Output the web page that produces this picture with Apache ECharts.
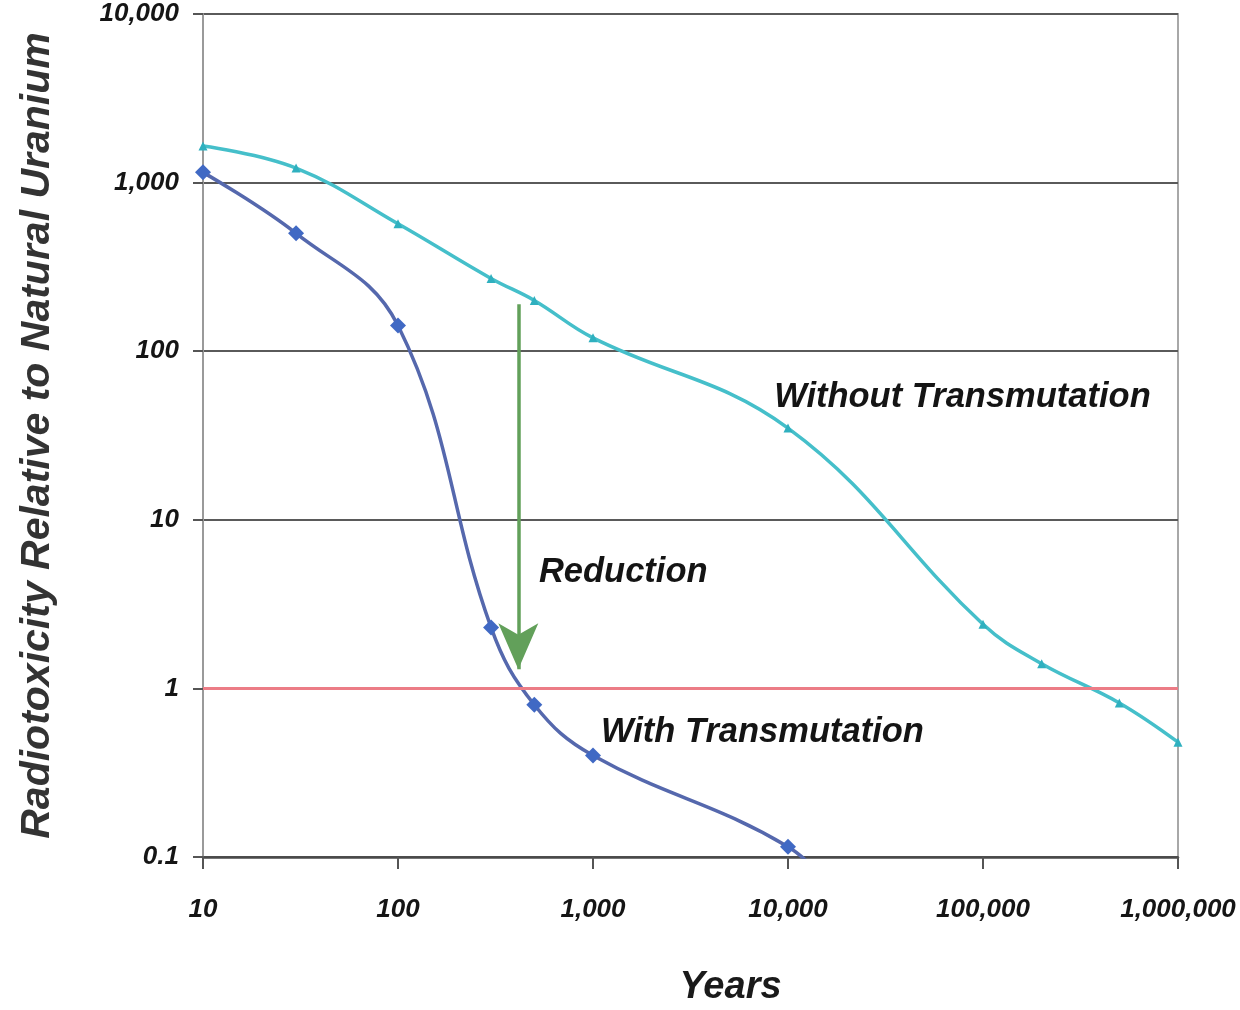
<!DOCTYPE html>
<html>
<head>
<meta charset="utf-8">
<title>Radiotoxicity vs Years</title>
<script src="https://cdn.jsdelivr.net/npm/echarts@6/dist/echarts.min.js"></script>
<style>
  html, body { margin: 0; padding: 0; background: #ffffff; }
  #chart { width: 1240px; height: 1010px; }
</style>
</head>
<body>
<div id="chart"></div>
<script>
// Years after discharge (log scale) and radiotoxicity relative to natural uranium
const withoutYears  = [10, 30, 100, 300, 500, 1000, 10000, 100000, 200000, 500000, 1000000];
const withoutValues = [1650, 1220, 570, 270, 200, 120, 35, 2.4, 1.4, 0.82, 0.48];

const withYears  = [10, 30, 100, 300, 500, 1000, 10000, 20000];
const withValues = [1150, 500, 142, 2.3, 0.8, 0.4, 0.115, 0.05];

// Axis ticks and their labels
const xTicks      = [10, 100, 1000, 10000, 100000, 1000000];
const xTickLabels = ['10', '100', '1,000', '10,000', '100,000', '1,000,000'];
const yTicks      = [0.1, 1, 10, 100, 1000, 10000];
const yTickLabels = ['0.1', '1', '10', '100', '1,000', '10,000'];

// Natural uranium level and the reduction arrow (years, level)
const uraniumLevel   = 1;
const reductionStart = [414, 190];
const reductionEnd   = [414, 1.3];

// Annotation anchors (years, level) with their texts
const notes = [
  { text: 'Without Transmutation', at: [8440, 53] },
  { text: 'Reduction',             at: [525, 4.9] },
  { text: 'With Transmutation',    at: [1092, 0.55] }
];

const FONT = '"Liberation Sans", Arial, sans-serif';

function pairs(xs, ys) { return xs.map((x, i) => [x, ys[i]]); }
function tickLabel(ticks, labels) {
  return v => {
    const i = ticks.findIndex(t => Math.abs(Math.log10(t) - Math.log10(v)) < 1e-6);
    return i >= 0 ? labels[i] : '';
  };
}

const chart = echarts.init(document.getElementById('chart'));

chart.setOption({
  animation: false,
  backgroundColor: '#ffffff',
  grid: {
    left: 203, right: 62, top: 14, bottom: 153,
    outerBoundsMode: 'none', containLabel: false,
    show: true, borderColor: '#a8a8a8', borderWidth: 2, backgroundColor: 'transparent'
  },
  xAxis: {
    type: 'log', logBase: 10, min: 10, max: 1000000,
    name: 'Years', nameLocation: 'middle', nameGap: 112,
    nameTextStyle: { fontFamily: FONT, fontSize: 38, fontWeight: 'bold', fontStyle: 'italic',
                     color: '#1a1a1a', padding: [0, 0, 0, 80] },
    axisLine: { show: true, lineStyle: { color: '#4a4a4a', width: 2.5 } },
    axisTick: { show: true, length: 12, lineStyle: { color: '#555', width: 2 } },
    minorTick: { show: false },
    splitLine: { show: false },
    axisLabel: {
      margin: 40, formatter: tickLabel(xTicks, xTickLabels),
      fontFamily: FONT, fontSize: 26, fontWeight: 'bold', fontStyle: 'italic', color: '#151515'
    }
  },
  yAxis: {
    type: 'log', logBase: 10, min: 0.1, max: 10000,
    name: 'Radiotoxicity Relative to Natural Uranium', nameLocation: 'middle', nameGap: 145,
    nameTextStyle: { fontFamily: FONT, fontSize: 41, fontWeight: 'bold', fontStyle: 'italic',
                     color: '#333333' },
    axisLine: { show: true, lineStyle: { color: '#9a9a9a', width: 2 } },
    axisTick: { show: true, length: 10, lineStyle: { color: '#555', width: 2 } },
    splitLine: { show: true, lineStyle: { color: '#5a5a5a', width: 2 } },
    axisLabel: {
      margin: 24, formatter: tickLabel(yTicks, yTickLabels),
      fontFamily: FONT, fontSize: 26, fontWeight: 'bold', fontStyle: 'italic', color: '#151515'
    }
  },
  series: [
    {
      name: 'Without Transmutation',
      type: 'line',
      data: pairs(withoutYears, withoutValues),
      smooth: 0.4,
      clip: true,
      lineStyle: { color: '#45bfca', width: 3.5 },
      symbol: 'triangle', symbolSize: 9,
      itemStyle: { color: '#2fb0bf' },
      z: 3
    },
    {
      name: 'With Transmutation',
      type: 'line',
      data: pairs(withYears, withValues),
      smooth: 0.4,
      clip: true,
      lineStyle: { color: '#5568ad', width: 3.5 },
      symbol: 'diamond', symbolSize: 16,
      itemStyle: { color: '#4069c4' },
      z: 4
    },
    {
      name: 'annotations',
      type: 'line',
      data: [],
      silent: true,
      markLine: {
        silent: true,
        animation: false,
        label: { show: false },
        data: [
          [
            { coord: [10, uraniumLevel], symbol: 'none', lineStyle: { color: '#ec7c86', width: 3, type: 'solid' } },
            { coord: [1000000, uraniumLevel], symbol: 'none' }
          ],
          [
            { coord: reductionStart, symbol: 'none', lineStyle: { color: '#62a05a', width: 3.5, type: 'solid' } },
            { coord: reductionEnd, symbol: 'arrow', symbolSize: [30, 46] }
          ]
        ]
      },
      markPoint: {
        silent: true,
        animation: false,
        symbol: 'circle', symbolSize: 1,
        itemStyle: { color: 'rgba(0,0,0,0)' },
        data: notes.map(n => ({
          coord: n.at,
          label: {
            show: true, position: 'right', distance: 0, formatter: n.text,
            fontFamily: FONT, fontSize: 34.5, fontWeight: 'bold', fontStyle: 'italic', color: '#141414'
          }
        }))
      }
    }
  ]
});
</script>
</body>
</html>
